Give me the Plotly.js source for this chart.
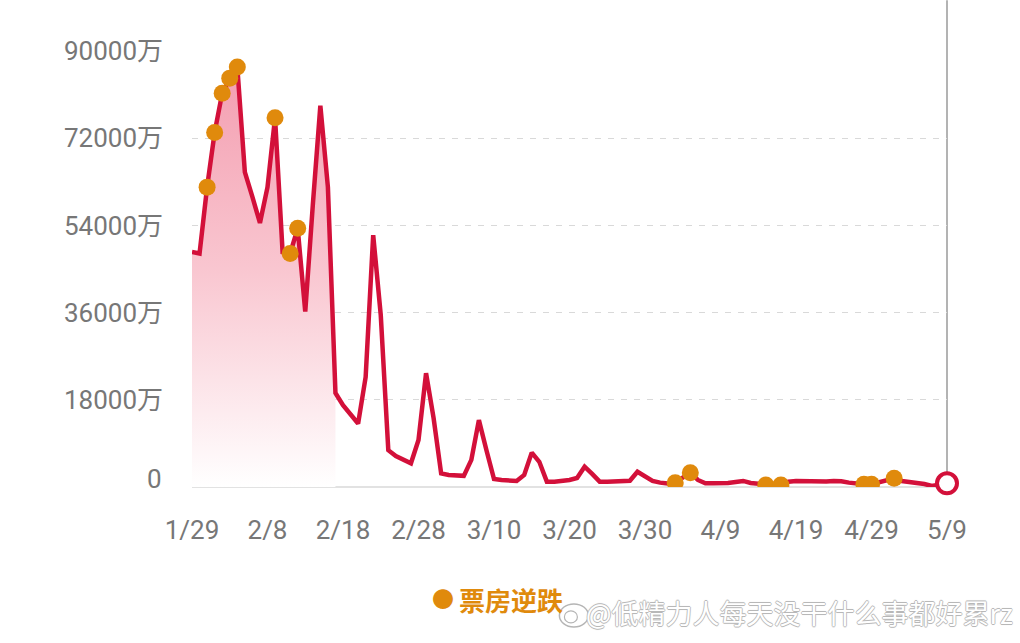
<!DOCTYPE html>
<html>
<head>
<meta charset="utf-8">
<script src="https://cdn.plot.ly/plotly-3.0.1.min.js"></script>
<style>
html,body{margin:0;padding:0;background:#fff;}
#chart{width:1020px;height:643px;}
</style>
</head>
<body>
<div id="chart"></div>
<script>
// ---- data ----
const startDate = '2025-01-29';
// daily box office (万), 1/29 ... 5/9
const boxOffice = [
  48500, 48200, 61900, 73200, 81300, 84400, 86700, 65000, 59900, 54500,
  61900, 76200, 48500, 48200, 53400, 36200, 58200, 78700, 61900, 19400,
  16900, 14900, 13100, 22700, 52000, 35500, 7600, 6400, 5600, 4900,
  9700, 23500, 14200, 2800, 2500, 2300, 2300, 5600, 13800, 7600,
  1650, 1450, 1300, 1250, 2500, 7100, 5200, 1100, 1100, 1250,
  1450, 1850, 4200, 2700, 1100, 1100, 1100, 1100, 1300, 3150,
  2250, 1250, 900, 750, 900, 1900, 2950, 1450, 750, 750,
  750, 850, 1050, 1250, 830, 620, 420, 400, 420, 1100,
  1250, 1200, 1300, 1250, 1150, 1250, 1200, 900, 700, 560,
  580, 1000, 1450, 1800, 1250, 1100, 1000, 620, 200, 400,
  760
];
// days marked "票房逆跌"
const riseDates = ['2025-01-31','2025-02-01','2025-02-02','2025-02-03','2025-02-04',
  '2025-02-09','2025-02-11','2025-02-12','2025-04-03','2025-04-05',
  '2025-04-15','2025-04-17','2025-04-28','2025-04-29','2025-05-02'];
const fillEndDate = '2025-02-17';
const xTickVals = ['2025-01-29','2025-02-08','2025-02-18','2025-02-28','2025-03-10',
  '2025-03-20','2025-03-30','2025-04-09','2025-04-19','2025-04-29','2025-05-09'];
const xTickText = ['1/29','2/8','2/18','2/28','3/10','3/20','3/30','4/9','4/19','4/29','5/9'];
const yTickVals = [0, 18000, 36000, 54000, 72000, 90000];
const yTickText = ['0','18000万','36000万','54000万','72000万','90000万'];
const legendText = '票房逆跌';
const watermark = '@低精力人每天没干什么事都好累rz';

// ---- build dates ----
const dates = [];
{
  const d0 = new Date(startDate + 'T00:00:00Z');
  for (let i = 0; i < boxOffice.length; i++) {
    const d = new Date(d0.getTime() + i * 86400000);
    dates.push(d.toISOString().slice(0, 10));
  }
}
const valueOf = {};
dates.forEach((d, i) => valueOf[d] = boxOffice[i]);
const fillN = dates.indexOf(fillEndDate) + 1;

const RED = '#D3103A';
const ORANGE = '#E08A0C';
const GREY = '#777777';
const FONT = 'Roboto, "Noto Sans CJK SC", sans-serif';

// pixel helpers for decoration placement
const L = 191.5, R = 946.7, T = 50.7, B = 487;
const px = v => (v - L) / (R - L);
const py = v => (B - v) / (B - T);

const traces = [
  {
    x: dates.slice(0, fillN), y: boxOffice.slice(0, fillN),
    type: 'scatter', mode: 'lines', fill: 'tozeroy',
    line: {width: 0, color: 'rgba(0,0,0,0)'},
    fillgradient: {type: 'vertical', start: 0, stop: 90000,
      colorscale: [[0, 'rgba(255,255,255,1)'], [0.5, 'rgba(249,198,208,1)'], [1, 'rgba(243,155,174,1)']]},
    hoverinfo: 'skip', showlegend: false
  },
  {
    x: dates, y: boxOffice, type: 'scatter', mode: 'lines',
    line: {color: RED, width: 4.5}, showlegend: false
  },
  {
    x: riseDates, y: riseDates.map(d => valueOf[d]),
    type: 'scatter', mode: 'markers', name: legendText,
    marker: {color: ORANGE, size: 17}, showlegend: false
  },
  {
    x: [dates[dates.length - 1]], y: [boxOffice[boxOffice.length - 1]],
    type: 'scatter', mode: 'markers', cliponaxis: false,
    marker: {color: '#ffffff', size: 20, line: {color: RED, width: 4}},
    showlegend: false
  }
];

const layout = {
  width: 1020, height: 643,
  margin: {l: L, r: 1020 - R, t: T, b: 643 - B, pad: 0},
  paper_bgcolor: '#ffffff', plot_bgcolor: '#ffffff',
  font: {family: FONT, color: GREY, size: 26},
  xaxis: {
    type: 'date', range: [dates[0], dates[dates.length - 1]],
    tickvals: xTickVals, ticktext: xTickText,
    showgrid: false, zeroline: false, showline: false,
    ticks: '', ticklabelstandoff: 25,
    tickfont: {family: FONT, color: GREY, size: 26}
  },
  yaxis: {
    range: [0, 90000], tickvals: yTickVals,
    ticktext: yTickText.map((t, i) => yTickVals[i] === 0 ? '' : t),
    showgrid: true, gridcolor: '#d9d9d9', gridwidth: 1, griddash: '6px,7px',
    zeroline: true, zerolinecolor: '#e2e2e2', zerolinewidth: 1.5,
    ticks: '', ticklabelstandoff: 28,
    tickfont: {family: FONT, color: GREY, size: 26}
  },
  shapes: [
    {type: 'line', xref: 'paper', yref: 'paper', x0: 1, x1: 1, y0: 0, y1: py(0),
     line: {color: '#9a9a9a', width: 1.5}, layer: 'below'},
    // weibo-like logo outline
    {type: 'circle', xref: 'paper', yref: 'paper', x0: px(559), x1: px(588), y0: py(627), y1: py(604),
     line: {color: '#b5b5b5', width: 1.5}, fillcolor: '#ffffff', layer: 'above'},
    {type: 'circle', xref: 'paper', yref: 'paper', x0: px(564), x1: px(577), y0: py(623), y1: py(611),
     line: {color: '#b5b5b5', width: 1.2}, fillcolor: '#ffffff', layer: 'above'}
  ],
  annotations: [
    {xref: 'paper', yref: 'paper', x: px(163), y: py(479), text: yTickText[0], showarrow: false,
     xanchor: 'right', yanchor: 'middle', font: {family: FONT, color: GREY, size: 26}},
    {xref: 'paper', yref: 'paper', x: px(443), y: py(600), text: '●', showarrow: false,
     xanchor: 'center', yanchor: 'middle', font: {family: FONT, color: ORANGE, size: 22}},
    {xref: 'paper', yref: 'paper', x: px(457), y: py(600), text: '<b>' + legendText + '</b>', showarrow: false,
     xanchor: 'left', yanchor: 'middle', font: {family: '"Noto Sans CJK SC", sans-serif', color: ORANGE, size: 26}},
    {xref: 'paper', yref: 'paper', x: px(1015), y: py(613), text: watermark, showarrow: false,
     xanchor: 'right', yanchor: 'middle',
     font: {family: '"Noto Sans CJK SC", sans-serif', color: '#ffffff', size: 27, weight: 400,
            shadow: '0.7px 0 0 #b8b8b8, -0.7px 0 0 #b8b8b8, 0 0.7px 0 #b8b8b8, 0 -0.7px 0 #b8b8b8, 0 0 2px #c4c4c4'}}
  ],
  showlegend: false
};

Plotly.newPlot('chart', traces, layout, {displayModeBar: false, staticPlot: true});
</script>
</body>
</html>
